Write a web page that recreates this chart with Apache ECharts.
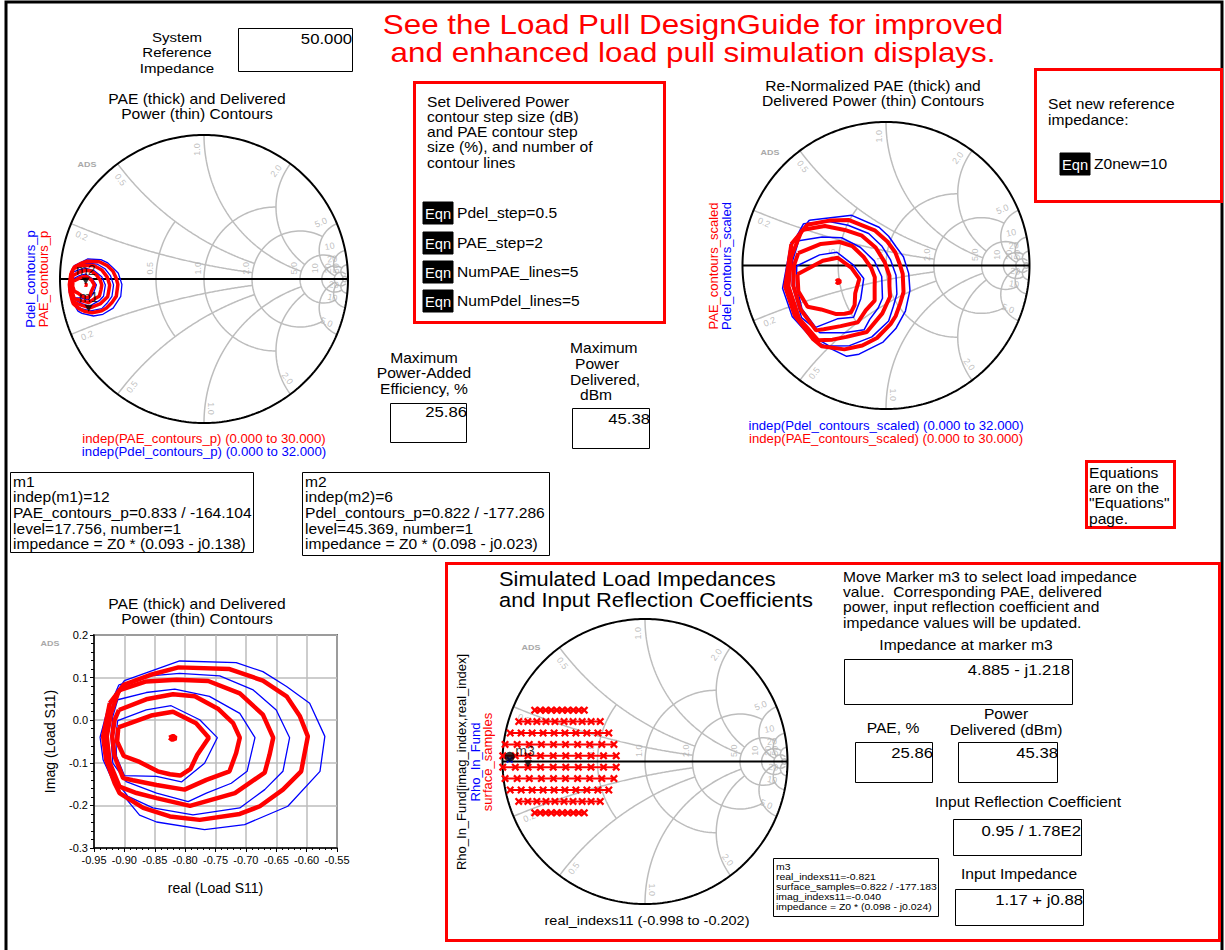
<!DOCTYPE html>
<html><head><meta charset="utf-8">
<script src="https://cdn.jsdelivr.net/npm/echarts@6/dist/echarts.min.js"></script>
<style>html,body{margin:0;padding:0;background:#fff}#c{width:1225px;height:950px}</style>
</head><body><div id="c"></div>
<script>
// ---- reference impedances ----
const Z0 = 50, Z0new = 10;

// ---- PAE contours (reflection coefficient, real / imag), inner to outer ----
const paeRing0 = [[-0.826,-0.041],[-0.820,-0.037],[-0.815,-0.042],[-0.821,-0.046],[-0.826,-0.041]];
const paeRing1 = [[-0.910,-0.017],[-0.856,0.011],[-0.820,0.020],[-0.782,-0.007],[-0.761,-0.041],[-0.780,-0.081],[-0.791,-0.114],[-0.808,-0.130],[-0.825,-0.127],[-0.845,-0.120],[-0.875,-0.098],[-0.901,-0.084],[-0.912,-0.050]];
const paeRing2 = [[-0.909,0.024],[-0.864,0.049],[-0.820,0.061],[-0.784,0.056],[-0.746,0.027],[-0.721,-0.007],[-0.710,-0.041],[-0.716,-0.077],[-0.727,-0.120],[-0.765,-0.140],[-0.801,-0.163],[-0.847,-0.152],[-0.886,-0.141],[-0.902,-0.136],[-0.916,-0.085],[-0.920,-0.038],[-0.916,0.001]];
const paeRing3 = [[-0.909,0.070],[-0.864,0.091],[-0.814,0.095],[-0.762,0.092],[-0.710,0.063],[-0.672,0.013],[-0.655,-0.041],[-0.661,-0.081],[-0.669,-0.123],[-0.718,-0.171],[-0.792,-0.201],[-0.847,-0.183],[-0.880,-0.171],[-0.908,-0.156],[-0.924,-0.101],[-0.929,-0.038],[-0.922,0.016]];
const paeRing4 = [[-0.924,0.040],[-0.901,0.083],[-0.858,0.106],[-0.811,0.124],[-0.727,0.120],[-0.672,0.093],[-0.633,0.056],[-0.611,0.009],[-0.598,-0.038],[-0.609,-0.120],[-0.639,-0.163],[-0.677,-0.202],[-0.710,-0.220],[-0.776,-0.234],[-0.825,-0.226],[-0.869,-0.206],[-0.908,-0.171],[-0.916,-0.148],[-0.930,-0.093],[-0.935,-0.038]];

// ---- delivered power contours ----
const pdelRing1 = [[-0.911,-0.001],[-0.864,0.024],[-0.823,0.034],[-0.776,0.001],[-0.747,-0.041],[-0.768,-0.101],[-0.806,-0.145],[-0.847,-0.132],[-0.900,-0.130],[-0.913,-0.085],[-0.914,-0.038]];
const pdelRing2 = [[-0.911,0.048],[-0.864,0.065],[-0.817,0.073],[-0.760,0.056],[-0.710,0.016],[-0.685,-0.041],[-0.698,-0.120],[-0.724,-0.148],[-0.765,-0.171],[-0.795,-0.191],[-0.847,-0.171],[-0.897,-0.144],[-0.919,-0.101],[-0.922,-0.038],[-0.919,0.009]];
const pdelRing3 = [[-0.909,0.083],[-0.858,0.104],[-0.809,0.110],[-0.743,0.104],[-0.688,0.071],[-0.650,0.024],[-0.628,-0.041],[-0.639,-0.120],[-0.669,-0.163],[-0.710,-0.206],[-0.787,-0.222],[-0.853,-0.206],[-0.894,-0.179],[-0.916,-0.140],[-0.931,-0.085],[-0.931,-0.038],[-0.922,0.040]];
const pdelRing4 = [[-0.900,0.093],[-0.809,0.139],[-0.716,0.135],[-0.672,0.114],[-0.633,0.079],[-0.595,0.040],[-0.570,-0.038],[-0.578,-0.120],[-0.631,-0.202],[-0.702,-0.245],[-0.768,-0.257],[-0.847,-0.239],[-0.875,-0.223],[-0.916,-0.152],[-0.935,-0.093],[-0.940,-0.040],[-0.925,0.040]];

// ---- markers ----
const m1Polar = [0.833, -164.104];
const m2Polar = [0.822, -177.286];
const m3Point = [-0.821, -0.040];
const rhoInPolar = [0.95, 178];

// ---- load-pull sample grid: imag value of each row, real values along it ----
const sampleRowImag = [0.36, 0.28, 0.20, 0.12, 0.04, -0.04, -0.12, -0.20, -0.28, -0.36];
const sampleRowReal36 = [-0.774,-0.735,-0.697,-0.658,-0.619,-0.581,-0.542,-0.503,-0.465,-0.426];
const sampleRowReal28 = [-0.886,-0.822,-0.759,-0.695,-0.632,-0.568,-0.505,-0.441,-0.378,-0.314];
const sampleRowReal20 = [-0.946,-0.869,-0.792,-0.715,-0.638,-0.562,-0.485,-0.408,-0.331,-0.254];
const sampleRowReal12 = [-0.982,-0.897,-0.812,-0.727,-0.642,-0.558,-0.473,-0.388,-0.303,-0.218];
const sampleRowReal04 = [-0.998,-0.910,-0.821,-0.733,-0.644,-0.556,-0.468,-0.379,-0.291,-0.202];

// ---- Smith grid values ----
const smithR = [0.5, 1, 2, 5, 10, 20, 50];
const smithRClip = [0.5, 2, 5, 10, 20, 50, Infinity];
const smithX = [0.2, 0.5, 1, 2, 5, 10, 20];
const smithXClip = [2, 2, 5, 5, 20, 20, 50];

// ---- rectangular plot ticks ----
const rectXTicks = [-0.95, -0.55, 0.05];
const rectYTicks = [-0.3, 0.2, 0.1];

const FONT = '"Liberation Sans", Arial, sans-serif';
const RED = '#ff0000', BLUE = '#0000ff', GRIDC = '#bdbdbd';
const WIDE = 1.115;   // horizontal stretch of the annotation lettering

function gam(zr, zi) {
  const ar = zr - 1, br = zr + 1, d = br * br + zi * zi;
  return [(ar * br + zi * zi) / d, (zi * br - ar * zi) / d];
}
function renorm(p) {
  const nr = 1 + p[0], ni = p[1], dr = 1 - p[0], di = -p[1];
  const d = dr * dr + di * di;
  const k = Z0 / Z0new;
  return gam(k * (nr * dr + ni * di) / d, k * (ni * dr - nr * di) / d);
}
function polar(p) { const a = p[1] * Math.PI / 180; return [p[0] * Math.cos(a), p[0] * Math.sin(a)]; }
function closed(ring) { return ring.concat([ring[0]]); }

function rArc(r, xmax) {
  const a = Math.atan(xmax), pts = [];
  for (let i = 0; i <= 180; i++) { const f = -a + 2 * a * i / 180; pts.push(gam(r, Math.tan(f))); }
  return pts;
}
function xArc(x, rmax) {
  const a = Math.atan(rmax), pts = [];
  for (let i = 0; i <= 150; i++) { const f = a * i / 150; pts.push(gam(Math.tan(f), x)); }
  return pts;
}
function fmt(v) { return v < 10 ? v.toFixed(1) : String(v); }

const series = [];
function line(gi, data, color, width, z) {
  series.push({ type: 'line', xAxisIndex: gi, yAxisIndex: gi, data, symbol: 'none', showSymbol: false,
    lineStyle: { color, width }, silent: true, animation: false, z: z || 2, clip: true });
}

function smithGrid(gi) {
  smithR.forEach((r, i) => line(gi, rArc(r, smithRClip[i]), GRIDC, 1.5, 1));
  smithX.forEach((x, i) => { line(gi, xArc(x, smithXClip[i]), GRIDC, 1.5, 1); line(gi, xArc(-x, smithXClip[i]), GRIDC, 1.5, 1); });
  const rim = [];
  for (let i = 0; i <= 360; i++) { const a = i * Math.PI / 180; rim.push([Math.cos(a), Math.sin(a)]); }
  line(gi, rim, '#000', 2, 3);
  line(gi, [[-1, 0], [1, 0]], '#000', 2, 3);
  const lab = [];
  smithR.forEach(r => { const g = gam(r, 0); lab.push({ value: [g[0] - 0.045, 0.075], label: { rotate: 90, formatter: fmt(r) } }); });
  smithX.forEach(x => [x, -x].forEach(xx => {
    const g = gam(0, xx); let deg = Math.atan2(g[1], g[0]) * 180 / Math.PI;
    if (deg > 90) deg -= 180; if (deg < -90) deg += 180;
    lab.push({ value: [g[0] * 0.9 - g[1] * 0.05, g[1] * 0.9 + g[0] * 0.05], label: { rotate: deg, formatter: fmt(x) } });
  }));
  series.push({ type: 'scatter', xAxisIndex: gi, yAxisIndex: gi, symbolSize: 0, data: lab, silent: true, animation: false, z: 1,
    label: { show: true, position: 'inside', color: '#b0b0b0', fontSize: 9, fontFamily: FONT } });
}

const paeRings = [paeRing0, paeRing1, paeRing2, paeRing3, paeRing4];
const pdelRings = [pdelRing1, pdelRing2, pdelRing3, pdelRing4];

function contours(gi, map, redW, blueW) {
  pdelRings.forEach(r => line(gi, closed(r).map(map), BLUE, blueW, 4));
  paeRings.forEach(r => line(gi, closed(r).map(map), RED, redW, 5));
}
const ident = p => p;
const tri = 'path://M0,0L10,0L5,9Z';
const cross = 'path://M0,2L2,0L5,3L8,0L10,2L7,5L10,8L8,10L5,7L2,10L0,8L3,5Z';

// grid 0: Smith chart, system reference
smithGrid(0);
contours(0, ident, 3.5, 1.3);
series.push({ type: 'scatter', xAxisIndex: 0, yAxisIndex: 0, symbol: tri, symbolSize: [8, 7], symbolOffset: [0, '-50%'],
  itemStyle: { color: '#000' }, silent: true, animation: false, z: 8,
  label: { show: true, position: 'top', distance: 1, color: '#000', fontSize: 14, fontFamily: FONT, formatter: p => p.name },
  data: [{ name: 'm2', value: polar(m2Polar) }, { name: 'm1', value: polar(m1Polar) }] });

// grid 1: Smith chart, re-normalized
smithGrid(1);
contours(1, renorm, 4, 1.5);

// grid 2: rectangular plot
contours(2, ident, 4.5, 1.3);

// grid 3: Smith chart, sampled load impedances
smithGrid(3);
const sampleRows = [sampleRowReal36, sampleRowReal28, sampleRowReal20, sampleRowReal12, sampleRowReal04,
                    sampleRowReal04, sampleRowReal12, sampleRowReal20, sampleRowReal28, sampleRowReal36];
sampleRows.forEach((row, i) => series.push({ type: 'line', xAxisIndex: 3, yAxisIndex: 3,
  data: row.map(x => [x, sampleRowImag[i]]), symbol: cross, symbolSize: 8, showSymbol: true,
  lineStyle: { color: RED, width: 2 }, itemStyle: { color: RED }, silent: true, animation: false, z: 5 }));
const rhoIn = polar(rhoInPolar);
series.push({ type: 'scatter', xAxisIndex: 3, yAxisIndex: 3, symbol: cross, symbolSize: 7, itemStyle: { color: BLUE },
  data: [rhoIn], symbolOffset: [0, 3], silent: true, animation: false, z: 6 });
series.push({ type: 'scatter', xAxisIndex: 3, yAxisIndex: 3, symbol: 'circle', symbolSize: 10, itemStyle: { color: '#000' },
  data: [rhoIn], silent: true, animation: false, z: 7 });
series.push({ type: 'scatter', xAxisIndex: 3, yAxisIndex: 3, symbol: tri, symbolSize: [8, 7], symbolOffset: [0, '-50%'],
  itemStyle: { color: '#000' }, silent: true, animation: false, z: 8,
  label: { show: true, position: 'top', distance: 2, offset: [-3, 0], color: '#000', fontSize: 14, fontFamily: FONT, formatter: 'm3' },
  data: [m3Point] });

// layout of the four plotting areas
const SM = [{ cx: 204, cy: 279, r: 144 }, { cx: 886, cy: 265.5, r: 143.5 }, null, { cx: 645, cy: 761.5, r: 142.5 }];
const grids = [], xAxes = [], yAxes = [];
SM.forEach((s, i) => {
  if (s) {
    grids.push({ left: s.cx - s.r, top: s.cy - s.r, width: 2 * s.r, height: 2 * s.r });
    xAxes.push({ gridIndex: i, type: 'value', min: -1, max: 1, show: false });
    yAxes.push({ gridIndex: i, type: 'value', min: -1, max: 1, show: false });
  } else {
    grids.push({ left: 94, top: 635, width: 243, height: 213, show: true, borderColor: '#000', borderWidth: 1.5 });
    xAxes.push({ gridIndex: i, type: 'value', min: rectXTicks[0], max: rectXTicks[1], interval: rectXTicks[2],
      axisLine: { show: true, onZero: false, lineStyle: { color: '#000', width: 1.5 } },
      axisTick: { show: true, length: 4, lineStyle: { color: '#000' } },
      minorTick: { show: true, splitNumber: 5, length: 2, lineStyle: { color: '#000' } },
      splitLine: { show: true, lineStyle: { color: GRIDC, width: 1.5 } },
      axisLabel: { color: '#000', fontSize: 11, fontFamily: FONT, margin: 6, formatter: v => v.toFixed(2) },
      name: 'real (Load S11)', nameLocation: 'middle', nameGap: 33, nameTextStyle: { color: '#000', fontSize: 14, fontFamily: FONT } });
    yAxes.push({ gridIndex: i, type: 'value', min: rectYTicks[0], max: rectYTicks[1], interval: rectYTicks[2],
      axisLine: { show: true, onZero: false, lineStyle: { color: '#000', width: 1.5 } },
      axisTick: { show: true, length: 4, lineStyle: { color: '#000' } },
      minorTick: { show: true, splitNumber: 5, length: 3, lineStyle: { color: '#000' } },
      splitLine: { show: true, lineStyle: { color: GRIDC, width: 1.5 } },
      axisLabel: { color: '#000', fontSize: 11, fontFamily: FONT, margin: 6, formatter: v => Math.abs(v) < 1e-9 ? '0.0' : v.toFixed(1) },
      name: 'Imag (Load S11)', nameLocation: 'middle', nameGap: 37, nameTextStyle: { color: '#000', fontSize: 14, fontFamily: FONT } });
  }
});

// ---- page annotations ----
const G = [];
function T(x, y, text, o) {
  o = o || {};
  G.push({ type: 'text', x, y, rotation: o.rot || 0, scaleX: o.rot ? 1 : (o.sx || WIDE), silent: true, z: 20,
    style: { text, fill: o.color || '#000', font: (o.bold ? 'bold ' : '') + (o.size || 14) + 'px ' + FONT,
      textAlign: o.align || 'left', textVerticalAlign: 'middle' } });
}
function L(x, y, dy, arr, o) { arr.forEach((s, i) => T(x, y + i * dy, s, o)); }
function R(x, y, w, h, stroke, lw, fill) {
  G.push({ type: 'rect', silent: true, z: 19, shape: { x, y, width: w, height: h, r: 0 },
    style: { fill: fill || 'none', stroke: stroke || '#000', lineWidth: lw || 1 } });
}
function Eqn(x, y, label) {
  R(x, y - 11, 30, 22, null, 0, '#000');
  T(x + 15, y + 1, 'Eqn', { color: '#fff', align: 'center', sx: 1.05 });
  T(x + 34, y, label);
}

// page frame
G.push({ type: 'polyline', silent: true, z: 19, shape: { points: [[6, 950], [6, 2], [1222, 2], [1222, 950]] }, style: { stroke: '#000', lineWidth: 3, fill: 'none' } });

L(177, 37, 15.5, ['System', 'Reference', 'Impedance'], { align: 'center', size: 13.5 });
R(238.5, 28.5, 114, 43);
T(352, 39, '50.000', { align: 'right', size: 15 });

L(693, 24, 28.5, ['See the Load Pull DesignGuide for improved', 'and enhanced load pull simulation displays.'], { align: 'center', size: 28, color: RED, sx: 1.12 });

// top-left Smith chart
L(197, 99, 15, ['PAE (thick) and Delivered', 'Power (thin) Contours'], { align: 'center' });
T(87, 164, 'ADS', { size: 8, bold: true, color: '#a8a8a8', align: 'center' });
T(30, 279, 'Pdel_contours_p', { rot: Math.PI / 2, align: 'center', size: 13, color: BLUE });
T(43, 279, 'PAE_contours_p', { rot: Math.PI / 2, align: 'center', size: 13, color: RED });
T(204, 439, 'indep(PAE_contours_p) (0.000 to 30.000)', { align: 'center', size: 12, color: RED, sx: 1.1 });
T(204, 452, 'indep(Pdel_contours_p) (0.000 to 32.000)', { align: 'center', size: 12, color: BLUE, sx: 1.1 });

// settings box
R(414.5, 82.5, 250, 240, RED, 3);
L(427, 102, 15.2, ['Set Delivered Power', 'contour step size (dB)', 'and PAE contour step', 'size (%), and number of', 'contour lines'], { size: 14 });
Eqn(423, 213, 'Pdel_step=0.5');
Eqn(423, 243, 'PAE_step=2');
Eqn(423, 272, 'NumPAE_lines=5');
Eqn(423, 301, 'NumPdel_lines=5');

// maxima
L(424, 358, 15.5, ['Maximum', 'Power-Added', 'Efficiency, %'], { align: 'center' });
R(390.5, 403.5, 76, 39);
T(467, 412, '25.86', { align: 'right', size: 15 });
T(570, 348, 'Maximum'); T(575, 364, 'Power'); T(570, 380, 'Delivered,'); T(580, 395, 'dBm');
R(572.5, 408.5, 77, 40);
T(650, 419, '45.38', { align: 'right', size: 15 });

// top-right Smith chart
L(873, 86, 15, ['Re-Normalized PAE (thick) and', 'Delivered Power (thin) Contours'], { align: 'center' });
T(770, 152, 'ADS', { size: 8, bold: true, color: '#a8a8a8', align: 'center' });
T(713, 266, 'PAE_contours_scaled', { rot: Math.PI / 2, align: 'center', size: 13, color: RED });
T(726, 266, 'Pdel_contours_scaled', { rot: Math.PI / 2, align: 'center', size: 13, color: BLUE });
T(886, 426, 'indep(Pdel_contours_scaled) (0.000 to 32.000)', { align: 'center', size: 12, color: BLUE, sx: 1.1 });
T(886, 439, 'indep(PAE_contours_scaled) (0.000 to 30.000)', { align: 'center', size: 12, color: RED, sx: 1.1 });

R(1035.5, 69.5, 186, 132, RED, 3);
L(1048, 104, 16, ['Set new reference', 'impedance:']);
Eqn(1060, 164, 'Z0new=10');

// marker readouts
R(10.5, 472.5, 243, 80);
L(13, 482, 15.6, ['m1', 'indep(m1)=12', 'PAE_contours_p=0.833 / -164.104', 'level=17.756, number=1', 'impedance = Z0 * (0.093 - j0.138)']);
R(302.5, 472.5, 247, 83);
L(305, 482, 15.6, ['m2', 'indep(m2)=6', 'Pdel_contours_p=0.822 / -177.286', 'level=45.369, number=1', 'impedance = Z0 * (0.098 - j0.023)']);

R(1086.5, 461.5, 88, 66, RED, 3);
L(1089, 473, 15.3, ['Equations', 'are on the', '"Equations"', 'page.']);

// bottom-left plot
L(197, 604, 15, ['PAE (thick) and Delivered', 'Power (thin) Contours'], { align: 'center' });
T(50, 643, 'ADS', { size: 8, bold: true, color: '#a8a8a8', align: 'center' });

// load impedance panel
R(446.5, 563.5, 773, 377, RED, 3);
L(499, 579, 21, ['Simulated Load Impedances', 'and Input Reflection Coefficients'], { size: 19.5, sx: 1.12 });
T(531, 647, 'ADS', { size: 8, bold: true, color: '#a8a8a8', align: 'center' });
T(461, 762, 'Rho_In_Fund[imag_index,real_index]', { rot: Math.PI / 2, align: 'center', size: 13 });
T(475, 762, 'Rho_In_Fund', { rot: Math.PI / 2, align: 'center', size: 13, color: BLUE });
T(487, 762, 'surface_samples', { rot: Math.PI / 2, align: 'center', size: 13, color: RED });
T(647, 921, 'real_indexs11 (-0.998 to -0.202)', { align: 'center', size: 13 });

R(773.5, 858.5, 165, 58);
L(776, 867, 10, ['m3', 'real_indexs11=-0.821', 'surface_samples=0.822 / -177.183', 'imag_indexs11=-0.040', 'impedance = Z0 * (0.098 - j0.024)'], { size: 9.5, sx: 1.1 });

L(843, 577, 15.3, ['Move Marker m3 to select load impedance', 'value.  Corresponding PAE, delivered', 'power, input reflection coefficient and', 'impedance values will be updated.']);
T(966, 645, 'Impedance at marker m3', { align: 'center' });
R(844.5, 659.5, 228, 45);
T(1070, 670, '4.885 - j1.218', { align: 'right', size: 15 });
T(893, 728, 'PAE, %', { align: 'center' });
L(1006, 714, 16, ['Power', 'Delivered (dBm)'], { align: 'center' });
R(855.5, 742.5, 77, 40);
T(933, 753, '25.86', { align: 'right', size: 15 });
R(958.5, 742.5, 99, 40);
T(1058, 753, '45.38', { align: 'right', size: 15 });
T(1028, 802, 'Input Reflection Coefficient', { align: 'center' });
R(953.5, 819.5, 128, 36);
T(1081, 831, '0.95 / 1.78E2', { align: 'right', size: 15 });
T(1019, 874, 'Input Impedance', { align: 'center' });
R(955.5, 889.5, 128, 36);
T(1083, 900, '1.17 + j0.88', { align: 'right', size: 15 });

const chart = echarts.init(document.getElementById('c'), null, { renderer: 'svg' });
chart.setOption({ animation: false, backgroundColor: '#fff', grid: grids, xAxis: xAxes, yAxis: yAxes, series, graphic: G });
</script></body></html>
